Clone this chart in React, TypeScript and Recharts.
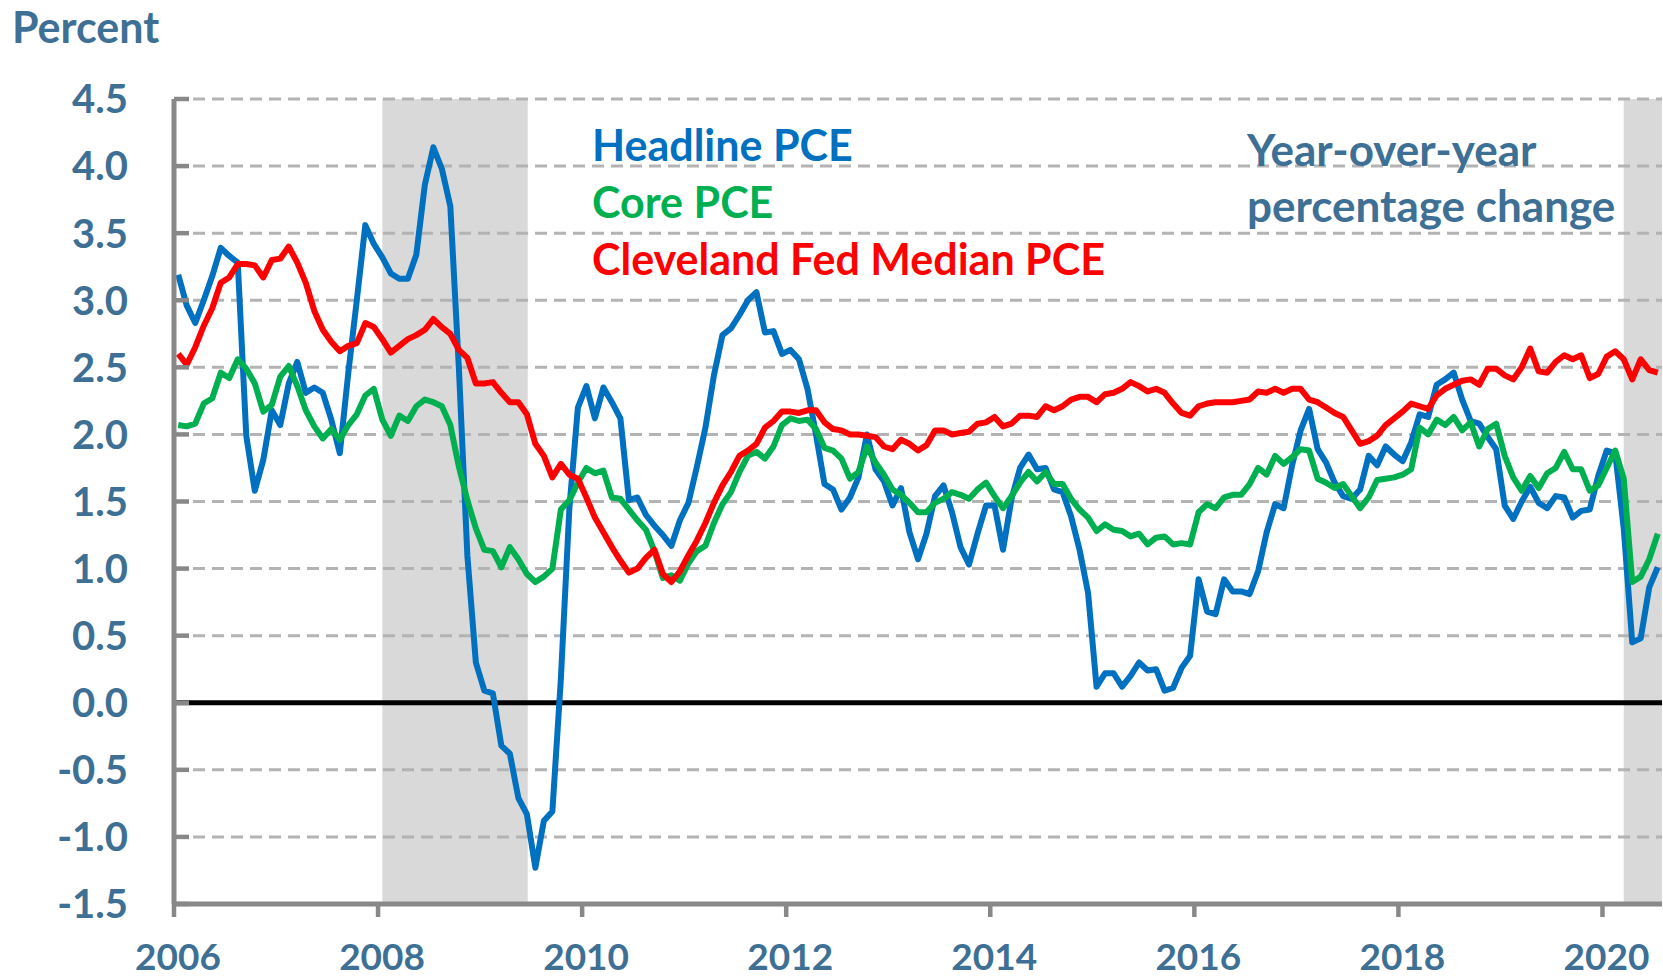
import React from 'react';
import { LineChart, Line, XAxis, YAxis, CartesianGrid, ReferenceArea, ReferenceLine } from 'recharts';

// monthly year-over-year % change, Jan 2006 .. Jul 2020
const headlinePce = [
  3.19, 2.96, 2.83, 3.0, 3.18, 3.39, 3.33, 3.28, 1.99, 1.58, 1.81, 2.18,
  2.07, 2.38, 2.54, 2.31, 2.35, 2.31, 2.11, 1.86, 2.46, 3.0, 3.56, 3.42,
  3.32, 3.2, 3.16, 3.16, 3.34, 3.86, 4.14, 3.98, 3.7, 2.5, 1.1, 0.3,
  0.09, 0.07, -0.32, -0.38, -0.71, -0.83, -1.23, -0.88, -0.81, 0.18, 1.45, 2.2,
  2.36, 2.12, 2.35, 2.24, 2.12, 1.51, 1.53, 1.4, 1.32, 1.25, 1.17, 1.36,
  1.49, 1.76, 2.05, 2.44, 2.74, 2.79, 2.89, 3.0, 3.06, 2.76, 2.77, 2.6,
  2.63, 2.56, 2.34, 2.0, 1.63, 1.59, 1.44, 1.53, 1.68, 2.0, 1.74, 1.65,
  1.47, 1.6, 1.27, 1.07, 1.26, 1.54, 1.62, 1.42, 1.16, 1.03, 1.26, 1.47,
  1.47, 1.14, 1.52, 1.75, 1.85, 1.74, 1.75, 1.59, 1.57, 1.39, 1.14, 0.82,
  0.12, 0.22, 0.22, 0.12, 0.2, 0.3, 0.24, 0.25, 0.09, 0.11, 0.26, 0.35,
  0.92, 0.68, 0.66, 0.92, 0.83, 0.83, 0.81, 0.98, 1.27, 1.48, 1.45, 1.77,
  2.03, 2.19, 1.89, 1.79, 1.64, 1.54, 1.52, 1.59, 1.84, 1.77, 1.91, 1.85,
  1.8, 1.94, 2.15, 2.13, 2.37, 2.41, 2.46, 2.26, 2.1, 2.08, 1.98, 1.89,
  1.47, 1.37, 1.5, 1.61, 1.49, 1.45, 1.54, 1.53, 1.38, 1.43, 1.44, 1.69,
  1.88, 1.86, 1.3, 0.45, 0.48, 0.86, 1.01,
];

const corePce = [
  2.07, 2.06, 2.08, 2.23, 2.27, 2.46, 2.42, 2.56, 2.49, 2.38, 2.17, 2.22,
  2.43, 2.51, 2.36, 2.18, 2.06, 1.97, 2.04, 1.96, 2.07, 2.15, 2.29, 2.34,
  2.11, 1.99, 2.14, 2.1, 2.21, 2.26, 2.24, 2.21, 2.07, 1.76, 1.51, 1.3,
  1.14, 1.13, 1.01, 1.16, 1.07, 0.96, 0.9, 0.94, 1.0, 1.44, 1.51, 1.64,
  1.75, 1.71, 1.73, 1.53, 1.52, 1.44, 1.36, 1.29, 1.13, 0.93, 0.95, 0.91,
  1.04, 1.13, 1.17, 1.34, 1.48, 1.57, 1.72, 1.84, 1.87, 1.82, 1.91, 2.07,
  2.12, 2.1, 2.11, 2.04, 1.9, 1.88, 1.82, 1.67, 1.72, 1.91, 1.79, 1.7,
  1.59, 1.55, 1.49, 1.42, 1.42, 1.49, 1.52, 1.57, 1.55, 1.52, 1.59, 1.64,
  1.54, 1.45, 1.54, 1.64, 1.72, 1.65, 1.72, 1.63, 1.63, 1.52, 1.44, 1.38,
  1.28, 1.33, 1.29, 1.28, 1.24, 1.26, 1.18, 1.23, 1.24, 1.18, 1.19, 1.18,
  1.42, 1.48, 1.45, 1.53, 1.55, 1.55, 1.63, 1.75, 1.7, 1.84, 1.78, 1.83,
  1.89, 1.88, 1.67, 1.64, 1.6, 1.63, 1.54, 1.45, 1.53, 1.66, 1.67, 1.68,
  1.7, 1.74, 2.05, 2.0, 2.11, 2.07, 2.13, 2.03, 2.09, 1.91, 2.04, 2.08,
  1.84, 1.68, 1.58, 1.69, 1.6, 1.71, 1.75, 1.87, 1.74, 1.74, 1.58, 1.62,
  1.75, 1.88, 1.67, 0.9, 0.94, 1.07, 1.26,
];

const medianPce = [
  2.6, 2.52, 2.65, 2.81, 2.94, 3.13, 3.17, 3.27, 3.27, 3.26, 3.17, 3.3,
  3.31, 3.4, 3.28, 3.13, 2.92, 2.78, 2.69, 2.62, 2.66, 2.68, 2.83, 2.8,
  2.71, 2.61, 2.66, 2.71, 2.74, 2.78, 2.86, 2.8, 2.75, 2.63, 2.57, 2.38,
  2.38, 2.39, 2.31, 2.24, 2.24, 2.15, 1.93, 1.84, 1.68, 1.78, 1.7, 1.67,
  1.53, 1.38, 1.27, 1.16, 1.06, 0.97, 1.0, 1.08, 1.14, 0.96, 0.9, 0.98,
  1.1, 1.21, 1.34, 1.49, 1.62, 1.72, 1.84, 1.88, 1.93, 2.05, 2.1, 2.17,
  2.17, 2.16, 2.18, 2.18, 2.09, 2.04, 2.03, 2.0, 2.0, 1.99, 1.98, 1.91,
  1.89, 1.96, 1.93, 1.88, 1.92, 2.03, 2.03, 2.0, 2.01, 2.02, 2.08, 2.09,
  2.13, 2.06, 2.08, 2.14, 2.14, 2.13, 2.21, 2.18, 2.21, 2.26, 2.28, 2.28,
  2.24, 2.3, 2.31, 2.34, 2.39, 2.36, 2.32, 2.34, 2.31, 2.23, 2.16, 2.14,
  2.21, 2.23, 2.24, 2.24, 2.24, 2.25, 2.26, 2.32, 2.31, 2.34, 2.31, 2.34,
  2.34, 2.26, 2.24, 2.2, 2.16, 2.13, 2.03, 1.93, 1.95, 1.99, 2.07, 2.12,
  2.17, 2.23, 2.21, 2.19, 2.29, 2.34, 2.37, 2.4, 2.41, 2.37, 2.49, 2.49,
  2.44, 2.41, 2.5, 2.64, 2.47, 2.46, 2.54, 2.59, 2.56, 2.59, 2.42, 2.45,
  2.58, 2.62, 2.56, 2.41, 2.56, 2.48, 2.46,
];

const yearLabels = [2006, 2008, 2010, 2012, 2014, 2016, 2018, 2020];
const percentTicks = [-1.5, -1.0, -0.5, 0.0, 0.5, 1.0, 1.5, 2.0, 2.5, 3.0, 3.5, 4.0, 4.5];
// shaded recessions, in months since Jan 2006
const recessionStart = [24.5, 170.5];
const recessionEnd = [41.6, 175];

const FONT = 'Lato, "Open Sans", sans-serif';
const LABEL_COLOR = '#3E6F94';
const AXIS_COLOR = '#888888';

const chartData = headlinePce.map((v, i) => ({
  month: i + 0.5,
  headline: v,
  core: corePce[i],
  median: medianPce[i],
}));

if (typeof document !== 'undefined') {
  document.body.style.margin = '0';
}

function PercentTick({ x, y, payload }: any) {
  return (
    <g>
      <line x1={x} x2={x + 15} y1={y} y2={y} stroke={AXIS_COLOR} strokeWidth={4.5} />
      <text
        x={x - 46}
        y={y}
        dy="0.36em"
        textAnchor="end"
        fontFamily={FONT}
        fontWeight={700}
        fontSize={40}
        fill={LABEL_COLOR}
      >
        {Number(payload.value).toFixed(1)}
      </text>
    </g>
  );
}

function YearTick({ x, y, payload }: any) {
  return (
    <g>
      <line x1={x} x2={x} y1={y} y2={y + 13} stroke={AXIS_COLOR} strokeWidth={4.5} />
      <text
        x={x + 4}
        y={y + 66}
        textAnchor="middle"
        fontFamily={FONT}
        fontWeight={700}
        fontSize={37}
        fill={LABEL_COLOR}
      >
        {2006 + Math.round(payload.value / 12)}
      </text>
    </g>
  );
}

export default function App() {
  return (
    <div style={{ position: 'relative', width: 1663, height: 977, background: '#fff' }}>
      <LineChart
        width={1663}
        height={977}
        data={chartData}
        margin={{ top: 99, right: 1, bottom: 0, left: 0 }}
      >
        {recessionStart.map((s, i) => (
          <ReferenceArea
            key={i}
            x1={s}
            x2={recessionEnd[i]}
            y1={-1.5}
            y2={4.5}
            fill="#D9D9D9"
            fillOpacity={1}
            stroke="none"
            zIndex={-200}
          />
        ))}
        <CartesianGrid
          vertical={false}
          stroke="#B3B3B3"
          strokeWidth={3}
          strokeDasharray="12 7"
        />
        <XAxis
          dataKey="month"
          type="number"
          domain={[0, 175]}
          ticks={yearLabels.map((yr) => (yr - 2006) * 12)}
          height={73}
          tickSize={0}
          tickMargin={0}
          tick={<YearTick />}
          axisLine={{ stroke: AXIS_COLOR, strokeWidth: 5 }}
          allowDataOverflow
        />
        <YAxis
          type="number"
          domain={[-1.5, 4.5]}
          ticks={percentTicks}
          width={174}
          tickSize={0}
          tickMargin={0}
          tick={<PercentTick />}
          axisLine={{ stroke: AXIS_COLOR, strokeWidth: 5 }}
          interval={0}
        />
        <ReferenceLine y={0} stroke="#000" strokeWidth={5} />
        <Line
          type="linear"
          dataKey="headline"
          stroke="#0070C0"
          strokeWidth={6}
          strokeLinejoin="round"
          dot={false}
          isAnimationActive={false}
        />
        <Line
          type="linear"
          dataKey="core"
          stroke="#00B050"
          strokeWidth={6}
          strokeLinejoin="round"
          dot={false}
          isAnimationActive={false}
        />
        <Line
          type="linear"
          dataKey="median"
          stroke="#FF0000"
          strokeWidth={6}
          strokeLinejoin="round"
          dot={false}
          isAnimationActive={false}
        />
      </LineChart>

      <svg
        width={1663}
        height={977}
        style={{ position: 'absolute', left: 0, top: 0, pointerEvents: 'none' }}
        fontFamily={FONT}
        fontWeight={700}
      >
        <text x={12} y={43} fontSize={43} fill={LABEL_COLOR}>Percent</text>
        <text x={592} y={161} fontSize={43} fill="#0070C0">Headline PCE</text>
        <text x={592} y={218} fontSize={43} fill="#00B050">Core PCE</text>
        <text x={592} y={275} fontSize={43} fill="#FF0000">Cleveland Fed Median PCE</text>
        <text x={1247} y={166} fontSize={44} fill={LABEL_COLOR}>Year-over-year</text>
        <text x={1247} y={222} fontSize={44} fill={LABEL_COLOR}>percentage change</text>
      </svg>
    </div>
  );
}
